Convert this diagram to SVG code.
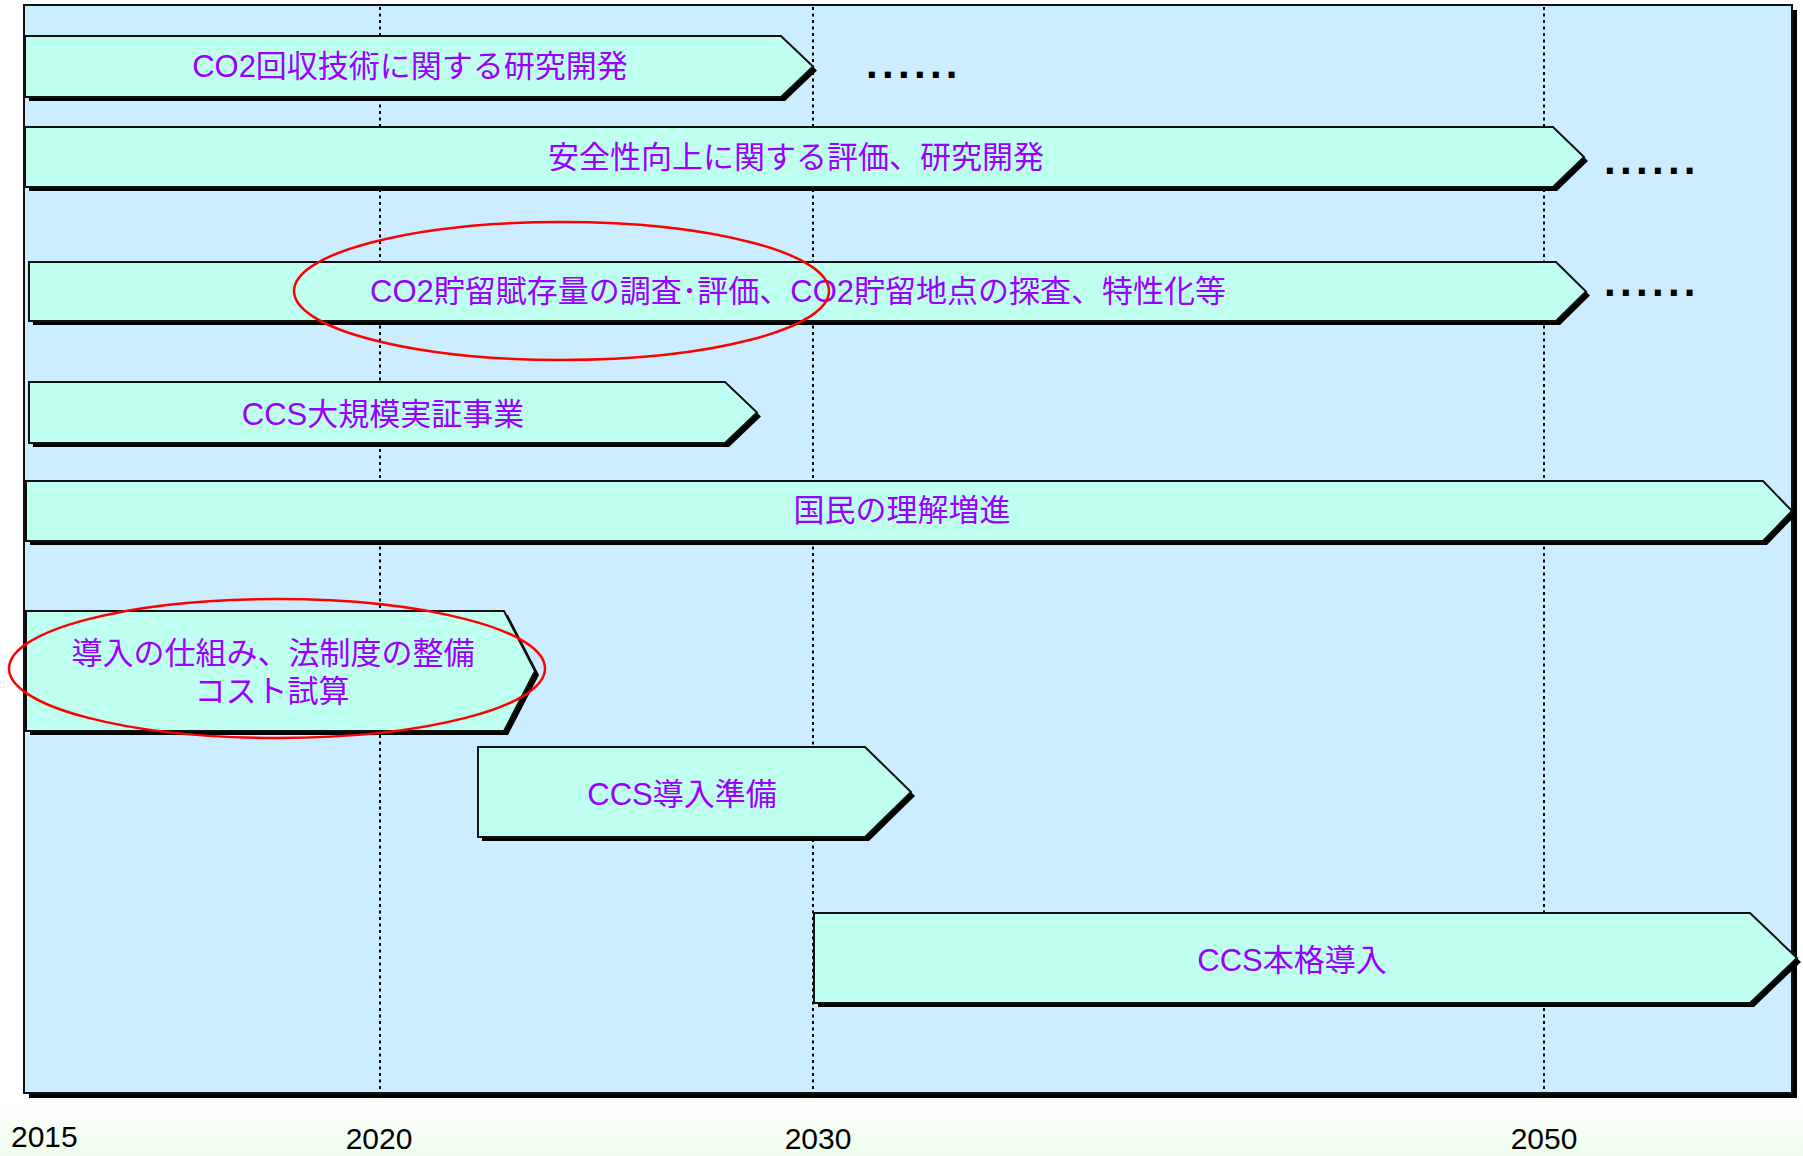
<svg xmlns="http://www.w3.org/2000/svg" width="1803" height="1156" viewBox="0 0 1803 1156">
<defs>
<linearGradient id="bg" x1="0" y1="0" x2="0" y2="1156" gradientUnits="userSpaceOnUse">
<stop offset="0" stop-color="#FFFFFF"/>
<stop offset="0.955" stop-color="#FFFFFF"/>
<stop offset="1" stop-color="#EEFDEC"/>
</linearGradient>
</defs>
<style>
.shadow{fill:#000000}
.bar{fill:#BFFFEF;stroke:#111111;stroke-width:2;stroke-linejoin:miter}
.lbl{font-family:"Liberation Sans","Noto Sans CJK JP",sans-serif;font-size:31px;fill:#9900FF;text-anchor:middle}
.year{font-family:"Liberation Sans","Noto Sans CJK JP",sans-serif;font-size:30px;fill:#000000}
.dots{font-family:"Liberation Sans",sans-serif;font-weight:bold;font-size:42px;letter-spacing:4.3px;fill:#000000}
.grid{stroke:#000000;stroke-width:2;stroke-dasharray:3 3.5;fill:none}
.ring{fill:none;stroke:#FF0000;stroke-width:2.5}
</style>
<rect x="0" y="0" width="1803" height="1156" fill="url(#bg)"/>
<g id="panel">
<rect class="shadow" x="29" y="10" width="1768" height="1088"/>
<rect x="24" y="5" width="1768" height="1088" fill="#CCECFF" stroke="#111111" stroke-width="2"/>
</g>
<g id="gridlines">
<line class="grid" x1="380" y1="7" x2="380" y2="1092"/>
<line class="grid" x1="813" y1="7" x2="813" y2="1092"/>
<line class="grid" x1="1544" y1="7" x2="1544" y2="1092"/>
</g>
<g id="connectors"></g>
<g id="bar-co2-capture">
<polygon class="shadow" points="29,40 785,40 817,70.5 785,101 29,101"/>
<polygon class="bar" points="25,36 781,36 813,66.5 781,97 25,97"/>
<text class="lbl" x="410" y="77">CO2回収技術に関する研究開発</text>
</g>
<g id="bar-safety">
<polygon class="shadow" points="29,131 1557,131 1588,161 1557,191 29,191"/>
<polygon class="bar" points="25,127 1553,127 1584,157 1553,187 25,187"/>
<text class="lbl" x="796" y="168">安全性向上に関する評価、研究開発</text>
</g>
<g id="bar-storage">
<polygon class="shadow" points="33,266 1560,266 1590,295.5 1560,325 33,325"/>
<polygon class="bar" points="29,262 1556,262 1586,291.5 1556,321 29,321"/>
<text class="lbl" x="798" y="302">CO2貯留賦存量の調査･評価、CO2貯留地点の探査、特性化等</text>
</g>
<g id="bar-demo">
<polygon class="shadow" points="33,386 729,386 761,416.5 729,447 33,447"/>
<polygon class="bar" points="29,382 725,382 757,412.5 725,443 29,443"/>
<text class="lbl" x="383" y="425">CCS大規模実証事業</text>
</g>
<g id="bar-public">
<polygon class="shadow" points="30,485 1767,485 1796,515 1767,545 30,545"/>
<polygon class="bar" points="26,481 1763,481 1792,511 1763,541 26,541"/>
<text class="lbl" x="902" y="521">国民の理解増進</text>
</g>
<g id="bar-legal">
<polygon class="shadow" points="30,615 508,615 539,675 508,735 30,735"/>
<polygon class="bar" points="26,611 504,611 535,671 504,731 26,731"/>
<text class="lbl" x="273" y="664">導入の仕組み、法制度の整備</text>
<text class="lbl" x="272" y="702">コスト試算</text>
</g>
<g id="bar-prep">
<polygon class="shadow" points="482,751 869,751 915,796 869,841 482,841"/>
<polygon class="bar" points="478,747 865,747 911,792 865,837 478,837"/>
<text class="lbl" x="682" y="805">CCS導入準備</text>
</g>
<g id="bar-full">
<polygon class="shadow" points="818,917 1754,917 1801,962 1754,1007 818,1007"/>
<polygon class="bar" points="814,913 1750,913 1797,958 1750,1003 814,1003"/>
<text class="lbl" x="1292" y="971">CCS本格導入</text>
</g>
<g id="continuations">
<text class="dots" x="866" y="78">......</text>
<text class="dots" x="1604" y="174">......</text>
<text class="dots" x="1604" y="296">......</text>
</g>
<g id="highlights">
<ellipse class="ring" cx="561.5" cy="291" rx="267.5" ry="69"/>
<ellipse class="ring" cx="277" cy="668.5" rx="268" ry="69.5"/>
</g>
<g id="axis-labels">
<text class="year" x="11" y="1147">2015</text>
<text class="year" x="379" y="1149" text-anchor="middle">2020</text>
<text class="year" x="818" y="1149" text-anchor="middle">2030</text>
<text class="year" x="1544" y="1149" text-anchor="middle">2050</text>
</g>
</svg>
